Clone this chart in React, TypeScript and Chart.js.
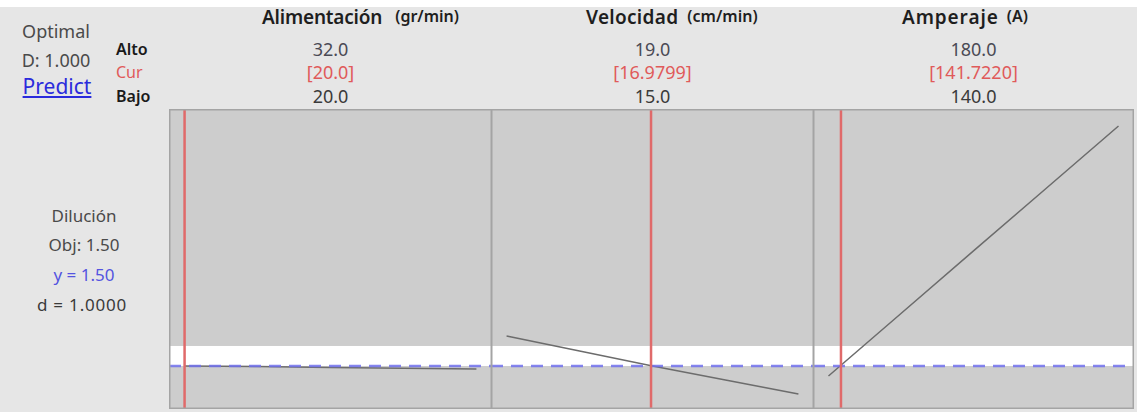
import React, { useEffect, useRef } from "react";
import { Chart, registerables } from "chart.js";

Chart.register(...registerables);

// ---------- data ----------
const factorNames = ["Alimentación", "Velocidad", "Amperaje"];
const factorUnits = ["(gr/min)", "(cm/min)", "(A)"];
const highLabels = ["32.0", "19.0", "180.0"];
const curLabels = ["[20.0]", "[16.9799]", "[141.7220]"];
const lowLabels = ["20.0", "15.0", "140.0"];
const lowValues = [20, 15, 140];
const highValues = [32, 19, 180];
const curValues = [20.0, 16.9799, 141.722];

const alimX = [20, 23, 26, 29, 32];
const alimY = [1.5, 1.497, 1.49, 1.485, 1.481];
const velX = [15, 16, 17, 18, 19];
const velY = [1.6875, 1.594, 1.5, 1.4125, 1.325];
const ampX = [140, 150, 160, 170, 180];
const ampY = [1.4375, 1.828, 2.219, 2.609, 3.0];

const curveX = [alimX, velX, ampX];
const curveY = [alimY, velY, ampY];

const responseName = "Dilución";
const targetLabel = "Obj: 1.50";
const yLabel = "y = 1.50";
const dLabel = "d = 1.0000";
const targetValue = 1.5;
const bandUpper = 1.625;
const yMinValue = 1.231;
const yMaxValue = 3.106;

// ---------- layout ----------
const FONT = '"Noto Sans", "Open Sans", sans-serif';
const panelLeft = [169, 491, 813];
const panelWidth = [323, 323, 321];
const panelTop = 109;
const panelHeight = 300;
const headerLeft = [262, 586, 902];
const headerGap = [13, 9, 8];
const headerSpacing = [-0.2, 0.3, 0.9];
const rowY = [49, 72, 96];
const xPadFrac = 0.0534;

const panelBg = {
  id: "panelBg",
  beforeDraw(chart: any) {
    const { ctx, chartArea, scales } = chart;
    const { left, right, top, bottom } = chartArea;
    ctx.save();
    ctx.fillStyle = "#cdcdcd";
    ctx.fillRect(left, top, right - left, bottom - top);
    const yb = scales.y.getPixelForValue(bandUpper);
    const yt = scales.y.getPixelForValue(targetValue);
    ctx.fillStyle = "#ffffff";
    ctx.fillRect(left, yb, right - left, yt - yb);
    ctx.restore();
  },
  afterDraw(chart: any) {
    const { ctx, chartArea } = chart;
    const { left, right, top, bottom } = chartArea;
    ctx.save();
    ctx.strokeStyle = "#a4a4a4";
    ctx.lineWidth = 1.5;
    ctx.strokeRect(left + 0.75, top + 0.75, right - left - 1.5, bottom - top - 1.5);
    ctx.restore();
  },
};

function Panel({ idx }: { idx: number }) {
  const ref = useRef<HTMLCanvasElement>(null);
  useEffect(() => {
    const lo = lowValues[idx];
    const hi = highValues[idx];
    const pad = (hi - lo) * xPadFrac;
    const xmin = lo - pad;
    const xmax = hi + pad;
    const curve = curveX[idx].map((x, i) => ({ x, y: curveY[idx][i] }));
    const chart = new Chart(ref.current as HTMLCanvasElement, {
      type: "line",
      data: {
        datasets: [
          {
            data: [
              { x: curValues[idx], y: yMinValue },
              { x: curValues[idx], y: yMaxValue },
            ],
            borderColor: "#e06a6a",
            borderWidth: 2.5,
            pointRadius: 0,
          },
          {
            data: [
              { x: xmin, y: targetValue },
              { x: xmax, y: targetValue },
            ],
            borderColor: "rgba(112,112,236,0.85)",
            borderWidth: 2.5,
            borderDash: [12, 8],
            pointRadius: 0,
          },
          {
            data: curve,
            borderColor: "#6c6c6c",
            borderWidth: 1.5,
            pointRadius: 0,
            tension: 0,
          },
        ],
      },
      options: {
        responsive: false,
        animation: false,
        devicePixelRatio: 1,
        layout: { padding: 0 },
        plugins: { legend: { display: false }, tooltip: { enabled: false } },
        scales: {
          x: { type: "linear", min: xmin, max: xmax, display: false },
          y: { type: "linear", min: yMinValue, max: yMaxValue, display: false },
        },
      },
      plugins: [panelBg],
    } as any);
    return () => chart.destroy();
  }, [idx]);
  return (
    <canvas
      ref={ref}
      width={panelWidth[idx]}
      height={panelHeight}
      style={{
        position: "absolute",
        left: panelLeft[idx],
        top: panelTop,
        width: panelWidth[idx],
        height: panelHeight,
      }}
    />
  );
}

function T({
  x,
  y,
  text,
  size,
  color,
  align = "center",
  weight = 400,
  underline = false,
  spacing = 0,
}: any) {
  const w = 300;
  const left = align === "center" ? x - w / 2 : align === "left" ? x : x - w;
  return (
    <div
      style={{
        position: "absolute",
        left,
        top: y - 15,
        width: w,
        height: 30,
        lineHeight: "30px",
        textAlign: align,
        fontFamily: FONT,
        fontSize: size,
        color,
        fontWeight: weight,
        letterSpacing: spacing,
        textDecoration: underline ? "underline" : "none",
        whiteSpace: "pre",
      }}
    >
      {text}
    </div>
  );
}

function Header({ i }: { i: number }) {
  return (
    <div
      style={{
        position: "absolute",
        left: headerLeft[i],
        top: 4,
        height: 30,
        display: "flex",
        alignItems: "baseline",
        whiteSpace: "nowrap",
        fontFamily: FONT,
        color: "#1e1e1e",
      }}
    >
      <span style={{ fontSize: 19, fontWeight: 600, letterSpacing: headerSpacing[i] }}>{factorNames[i]}</span>
      <span
        style={{
          fontSize: 16,
          fontWeight: 600,
          marginLeft: headerGap[i],
          position: "relative",
          top: -2,
        }}
      >
        {factorUnits[i]}
      </span>
    </div>
  );
}

export default function App() {
  useEffect(() => {
    document.body.style.margin = "0";
  }, []);
  const centers = panelLeft.map((l, i) => l + panelWidth[i] / 2);
  return (
    <div
      style={{
        position: "fixed",
        left: 0,
        top: 0,
        width: 1137,
        height: 412,
        background: "#e6e6e6",
        overflow: "hidden",
      }}
    >
      <div style={{ position: "absolute", left: 0, top: 0, width: 1137, height: 7, background: "#ffffff" }} />
      <T x={56} y={31} text="Optimal" size={18} color="#4a4a4a" />
      <T x={56} y={60} text="D: 1.000" size={18} color="#4a4a4a" />
      <T x={57} y={86} text="Predict" size={21} color="#2b2bdc" underline />
      <T x={116} y={rowY[0]} text="Alto" size={16} weight={600} color="#1a1a1a" align="left" />
      <T x={116} y={rowY[1]} text="Cur" size={16} color="#e05a5a" align="left" />
      <T x={116} y={rowY[2]} text="Bajo" size={16} weight={600} color="#1a1a1a" align="left" />
      {factorNames.map((n, i) => (
        <React.Fragment key={n}>
          <Header i={i} />
          <T x={centers[i]} y={rowY[0]} text={highLabels[i]} size={18} color="#4a4a55" />
          <T x={centers[i]} y={rowY[1]} text={curLabels[i]} size={18} color="#e05a5a" />
          <T x={centers[i]} y={rowY[2]} text={lowLabels[i]} size={18} color="#3a3a3a" />
        </React.Fragment>
      ))}
      <T x={84} y={216} text={responseName} size={17} color="#4a4a4a" />
      <T x={84} y={245} text={targetLabel} size={17} color="#4a4a4a" />
      <T x={84} y={275} text={yLabel} size={17} color="#5454e0" />
      <T x={82} y={305} text={dLabel} size={17} spacing={0.8} color="#3a3a3a" />
      {factorNames.map((n, i) => (
        <Panel key={"p" + i} idx={i} />
      ))}
    </div>
  );
}
